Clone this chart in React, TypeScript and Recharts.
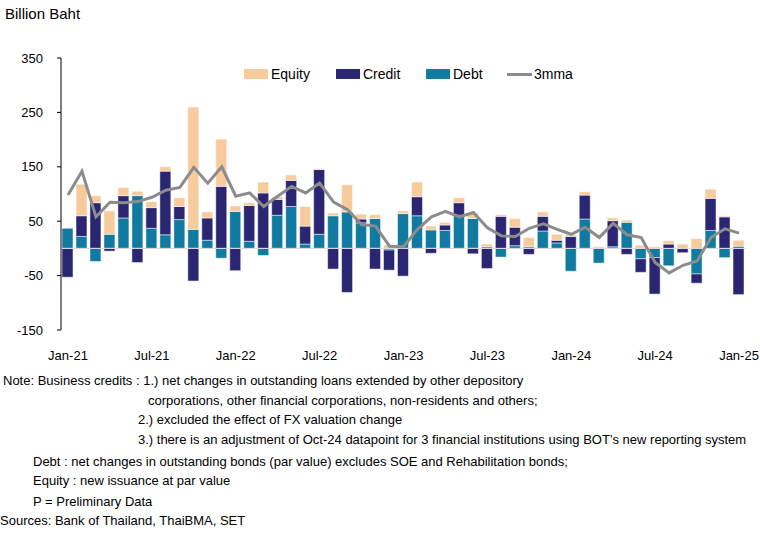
import { Bar, ComposedChart, Legend, Line, ReferenceLine, XAxis, YAxis } from "recharts";

const months = [
  "Jan-21", "Feb-21", "Mar-21", "Apr-21", "May-21", "Jun-21", "Jul-21", "Aug-21", "Sep-21", "Oct-21", "Nov-21", "Dec-21",
  "Jan-22", "Feb-22", "Mar-22", "Apr-22", "May-22", "Jun-22", "Jul-22", "Aug-22", "Sep-22", "Oct-22", "Nov-22", "Dec-22",
  "Jan-23", "Feb-23", "Mar-23", "Apr-23", "May-23", "Jun-23", "Jul-23", "Aug-23", "Sep-23", "Oct-23", "Nov-23", "Dec-23",
  "Jan-24", "Feb-24", "Mar-24", "Apr-24", "May-24", "Jun-24", "Jul-24", "Aug-24", "Sep-24", "Oct-24", "Nov-24", "Dec-24",
  "Jan-25",
];

const debt = [
  37, 22, -24, 26, 56, 97, 37, 25, 53, 35, 15, -18,
  68, 13, -13, 61, 77, 8, 26, 60, 67, 47, 55, -3,
  64, 60, 34, 33, 61, 55, 3, -16, 5, 3, 32, 10,
  -42, 54, -27, 3, 48, -19, -17, -32, 0, -47, 33, -17,
  4,
];

const credit = [
  -53, 38, 84, -5, 41, -26, 38, 117, 24, -60, 41, 114,
  -41, 66, 102, 29, 48, 33, 119, -38, -81, 7, -38, -37,
  -51, 35, -9, 10, 23, -10, -37, 59, 34, -11, 27, 5,
  22, 44, 0, 48, -11, -25, -67, 8, -8, -17, 59, 58,
  -85,
];

const equity = [
  0, 58, 13, 43, 15, 8, 11, 8, 16, 225, 11, 87,
  10, 5, 20, 5, 10, 36, 2, 5, 50, 9, 7, 6,
  5, 27, 7, 5, 9, 10, 5, 3, 16, 17, 8, 11,
  3, 6, 3, 5, 4, 6, 3, 6, 8, 18, 17, 2,
  11,
];

const mma3 = [
  98, 142, 58, 85, 84, 86, 94, 107, 112, 149, 120, 150,
  96, 102, 77, 96, 114, 102, 120, 85, 71, 44, 41, 4,
  3, 35, 58, 68, 58, 66, 38, 23, 22, 37, 45, 35,
  26, 39, 20, 46, 25, 20, -26, -45, -31, -23, 20, 36,
  28,
];

const yTicks = [-150, -50, 50, 150, 250, 350];

const notes = [
  { text: "Note: Business credits : 1.) net changes in outstanding loans extended by other depository", x: 3, y: 381 },
  { text: "corporations, other financial corporations, non-residents and others;", x: 148, y: 401 },
  { text: "2.) excluded the effect of FX valuation change", x: 138, y: 420 },
  { text: "3.) there is an adjustment of Oct-24 datapoint for 3 financial institutions using BOT\u2019s new reporting system", x: 138, y: 440 },
  { text: "Debt : net changes in outstanding bonds (par value) excludes SOE and Rehabilitation bonds;", x: 33, y: 462 },
  { text: "Equity : new issuance at par value", x: 33, y: 481 },
  { text: "P = Preliminary Data", x: 33, y: 502 },
  { text: "Sources: Bank of Thailand, ThaiBMA, SET", x: 0, y: 521 },
];

const COLORS = { equity: "#F8CB9D", credit: "#2B2672", debt: "#107AA0", mma: "#8C8C8C" };

const data = months.map((m, i) => ({
  month: m,
  debt: debt[i],
  credit: credit[i],
  equity: equity[i],
  mma: mma3[i],
}));

const FONT = "'Liberation Sans', Arial, sans-serif";

function ChartLegend() {
  const items = [
    { label: "Equity", color: COLORS.equity, kind: "box", w: 92 },
    { label: "Credit", color: COLORS.credit, kind: "box", w: 90 },
    { label: "Debt", color: COLORS.debt, kind: "box", w: 81 },
    { label: "3mma", color: COLORS.mma, kind: "line", w: 70 },
  ];
  return (
    <div style={{ display: "flex", alignItems: "center", fontFamily: FONT, fontSize: 14, color: "#000" }}>
      {items.map((it) => (
        <div key={it.label} style={{ display: "flex", alignItems: "center", width: it.w }}>
          {it.kind === "box" ? (
            <span style={{ display: "inline-block", width: 24, height: 10, background: it.color, marginRight: 3 }} />
          ) : (
            <span style={{ display: "inline-block", width: 25, height: 3, background: it.color, marginRight: 2 }} />
          )}
          <span>{it.label}</span>
        </div>
      ))}
    </div>
  );
}

export default function App() {
  return (
    <div style={{ position: "absolute", left: 0, top: 0, width: 760, height: 533, background: "#fff", fontFamily: FONT }}>
      <div style={{ position: "absolute", left: 5, top: 5, fontSize: 15, color: "#000" }}>Billion Baht</div>
      <ComposedChart
        width={760}
        height={372}
        data={data}
        stackOffset="sign"
        margin={{ top: 42, right: 14, bottom: 12, left: 0 }}
      >
        <XAxis
          dataKey="month"
          interval={5}
          axisLine={false}
          tickLine={false}
          tickMargin={15}
          height={30}
          tick={{ fontSize: 13, fill: "#000", fontFamily: FONT }}
        />
        <YAxis
          domain={[-150, 350]}
          ticks={yTicks}
          width={61}
          tickSize={4}
          tickMargin={14}
          axisLine={{ stroke: "#000" }}
          tickLine={{ stroke: "#000" }}
          tick={{ fontSize: 13, fill: "#000", fontFamily: FONT }}
        />
        <Legend
          verticalAlign="top"
          content={() => <ChartLegend />}
          wrapperStyle={{ top: 66, left: 244, width: "auto" }}
        />
        <ReferenceLine y={0} stroke="#d9d9d9" />
        <Bar dataKey="debt" stackId="a" fill={COLORS.debt} stroke="#fff" strokeWidth={0.5} barSize={11} isAnimationActive={false} />
        <Bar dataKey="credit" stackId="a" fill={COLORS.credit} stroke="#fff" strokeWidth={0.5} barSize={11} isAnimationActive={false} />
        <Bar dataKey="equity" stackId="a" fill={COLORS.equity} stroke="#fff" strokeWidth={0.5} barSize={11} isAnimationActive={false} />
        <Line dataKey="mma" type="linear" stroke={COLORS.mma} strokeWidth={3} dot={false} isAnimationActive={false} />
      </ComposedChart>
      {notes.map((n) => (
        <div
          key={n.text}
          style={{ position: "absolute", left: n.x, top: n.y - 9, fontSize: 13, color: "#000", whiteSpace: "nowrap", lineHeight: "18px" }}
        >
          {n.text}
        </div>
      ))}
    </div>
  );
}
